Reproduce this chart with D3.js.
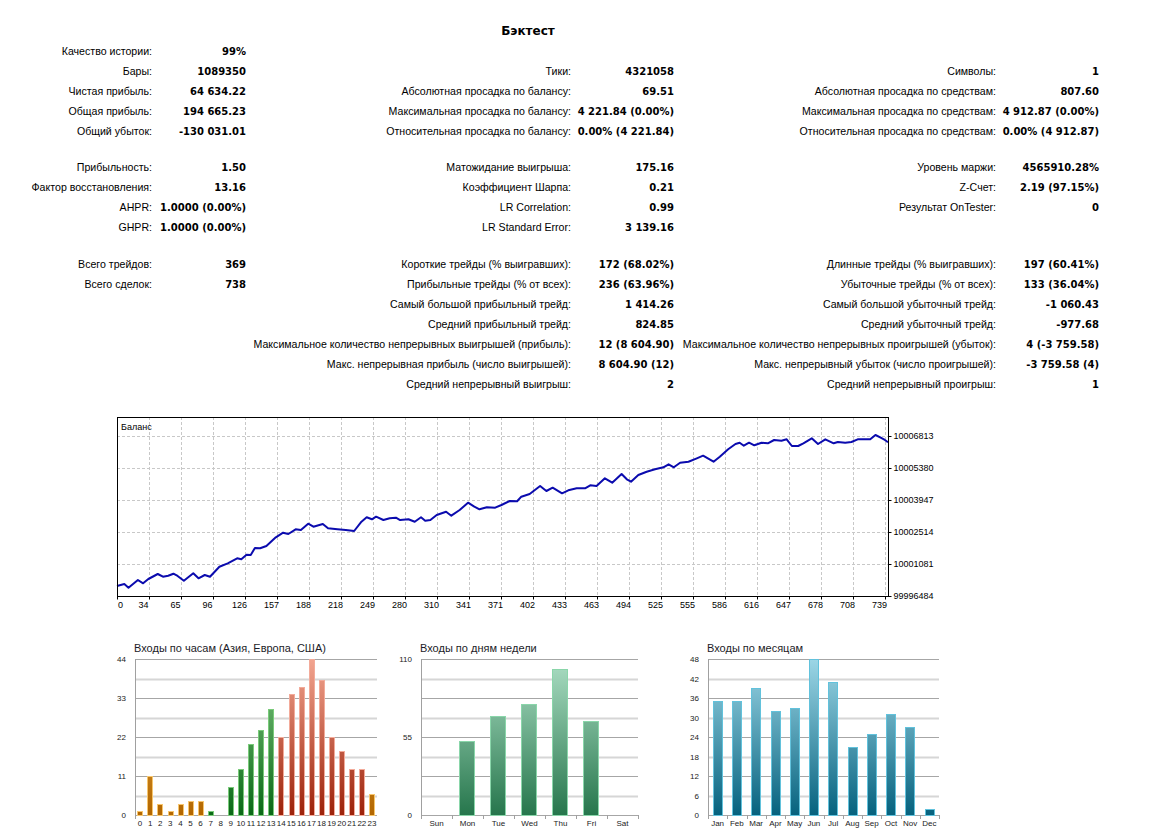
<!DOCTYPE html>
<html>
<head>
<meta charset="utf-8">
<script src="https://cdn.jsdelivr.net/npm/d3@7"></script>
<style>
  body { margin: 0; background: #fff; }
  svg { display: block; font-family: Tahoma, "Liberation Sans", Arial, sans-serif; }
</style>
</head>
<body>
<svg id="report" width="1157" height="840"></svg>
<script>
"use strict";

// ---- report table ----
const reportTitle = "Бэктест";

const statsLeft = [
    ["Качество истории:", "99%"],
    ["Бары:", "1089350"],
    ["Чистая прибыль:", "64 634.22"],
    ["Общая прибыль:", "194 665.23"],
    ["Общий убыток:", "-130 031.01"],
    ["Прибыльность:", "1.50"],
    ["Фактор восстановления:", "13.16"],
    ["AHPR:", "1.0000 (0.00%)"],
    ["GHPR:", "1.0000 (0.00%)"],
    ["Всего трейдов:", "369"],
    ["Всего сделок:", "738"],
];

const statsMiddle = [
    null,
    ["Тики:", "4321058"],
    ["Абсолютная просадка по балансу:", "69.51"],
    ["Максимальная просадка по балансу:", "4 221.84 (0.00%)"],
    ["Относительная просадка по балансу:", "0.00% (4 221.84)"],
    ["Матожидание выигрыша:", "175.16"],
    ["Коэффициент Шарпа:", "0.21"],
    ["LR Correlation:", "0.99"],
    ["LR Standard Error:", "3 139.16"],
    ["Короткие трейды (% выигравших):", "172 (68.02%)"],
    ["Прибыльные трейды (% от всех):", "236 (63.96%)"],
    ["Самый большой прибыльный трейд:", "1 414.26"],
    ["Средний прибыльный трейд:", "824.85"],
    ["Максимальное количество непрерывных выигрышей (прибыль):", "12 (8 604.90)"],
    ["Макс. непрерывная прибыль (число выигрышей):", "8 604.90 (12)"],
    ["Средний непрерывный выигрыш:", "2"],
];

const statsRight = [
    null,
    ["Символы:", "1"],
    ["Абсолютная просадка по средствам:", "807.60"],
    ["Максимальная просадка по средствам:", "4 912.87 (0.00%)"],
    ["Относительная просадка по средствам:", "0.00% (4 912.87)"],
    ["Уровень маржи:", "4565910.28%"],
    ["Z-Счет:", "2.19 (97.15%)"],
    ["Результат OnTester:", "0"],
    null,
    ["Длинные трейды (% выигравших):", "197 (60.41%)"],
    ["Убыточные трейды (% от всех):", "133 (36.04%)"],
    ["Самый большой убыточный трейд:", "-1 060.43"],
    ["Средний убыточный трейд:", "-977.68"],
    ["Максимальное количество непрерывных проигрышей (убыток):", "4 (-3 759.58)"],
    ["Макс. непрерывный убыток (число проигрышей):", "-3 759.58 (4)"],
    ["Средний непрерывный проигрыш:", "1"],
];

// ---- balance curve ----
const balanceTitle = "Баланс";
const balanceDeals = [
    0, 7, 11, 20, 25, 30, 39, 44, 49, 54,
    58, 64, 73, 78, 84, 89, 98, 106, 115, 119,
    124, 128, 132, 137, 143, 152, 159, 164, 171, 176,
    183, 188, 197, 202, 211, 219, 227, 234, 239, 244,
    248, 255, 261, 267, 271, 279, 285, 291, 295, 300,
    306, 315, 320, 328, 336, 342, 347, 354, 362, 368,
    376, 383, 387, 395, 405, 411, 417, 426, 432, 440,
    448, 453, 459, 467, 474, 483, 488, 492, 499, 507,
    515, 523, 528, 533, 539, 547, 555, 561, 566, 571,
    577, 585, 592, 596, 600, 605, 610, 617, 623, 629,
    636, 641, 646, 652, 657, 665, 671, 678, 686, 690,
    697, 703, 709, 716, 721, 726, 731, 735, 738,
];
const balanceValues = [
    10000096, 10000185, 10000020, 10000364, 10000217, 10000409, 10000633, 10000512, 10000557, 10000647,
    10000544, 10000333, 10000665, 10000441, 10000588, 10000512, 10000960, 10001112, 10001336, 10001291,
    10001497, 10001484, 10001797, 10001784, 10001887, 10002277, 10002483, 10002424, 10002635, 10002603,
    10002886, 10002751, 10002872, 10002680, 10002635, 10002603, 10002559, 10002975, 10003172, 10003083,
    10003199, 10003051, 10003127, 10003154, 10003051, 10003083, 10002975, 10003172, 10003020, 10003051,
    10003275, 10003423, 10003244, 10003499, 10003826, 10003647, 10003530, 10003620, 10003602, 10003723,
    10003902, 10003889, 10004095, 10004216, 10004574, 10004350, 10004498, 10004247, 10004381, 10004471,
    10004471, 10004605, 10004574, 10004919, 10004722, 10005111, 10004874, 10004766, 10005066, 10005214,
    10005322, 10005411, 10005545, 10005411, 10005617, 10005662, 10005814, 10005931, 10005796, 10005662,
    10005886, 10006217, 10006455, 10006513, 10006378, 10006513, 10006396, 10006513, 10006486, 10006634,
    10006602, 10006665, 10006365, 10006365, 10006486, 10006710, 10006455, 10006665, 10006486, 10006544,
    10006513, 10006544, 10006665, 10006665, 10006665, 10006858, 10006737, 10006634, 10006531,
];
const balanceTicks = [9999648, 10001081, 10002514, 10003947, 10005380, 10006813];
const balanceTickLabels = ["99996484", "10001081", "10002514", "10003947", "10005380", "10006813"];
const dealTickLabels = [0, 34, 65, 96, 126, 157, 188, 218, 249, 280, 310, 341, 371,
    402, 433, 463, 494, 525, 555, 586, 616, 647, 678, 708, 739];

// ---- entries histograms ----
const hourTitle = "Входы по часам (Азия, Европа, США)";
const hours = d3.range(24).map(String);
const hourEntries = [1, 11, 3, 1, 3, 4, 4, 1, 0, 8, 13, 20, 24, 30, 22, 34, 36, 44, 38, 22, 18, 13, 13, 6];
const hourSessions = ["asia", "asia", "asia", "asia", "asia", "asia", "asia",
    "europe", "europe", "europe", "europe", "europe", "europe", "europe",
    "usa", "usa", "usa", "usa", "usa", "usa", "usa", "usa", "usa", "asia"];

const weekdayTitle = "Входы по дням недели";
const weekdays = ["Sun", "Mon", "Tue", "Wed", "Thu", "Fri", "Sat"];
const weekdayEntries = [0, 52, 70, 78, 103, 66, 0];

const monthTitle = "Входы по месяцам";
const months = ["Jan", "Feb", "Mar", "Apr", "May", "Jun", "Jul", "Aug", "Sep", "Oct", "Nov", "Dec"];
const monthEntries = [35, 35, 39, 32, 33, 48, 41, 21, 25, 31, 27, 2];

// gradient top / bottom / outline
const palettes = {
    asia:    ["#f6bc52", "#b26600", "#f7c66e"],
    europe:  ["#84c884", "#0a6816", "#7acb7a"],
    usa:     ["#f2a590", "#9c220a", "#f3ab9a"],
    weekday: ["#acdec4", "#26764c", "#8ad6aa"],
    month:   ["#9cd6e6", "#06627e", "#62c2dc"],
};

const svg = d3.select("#report");
const defs = svg.append("defs");

svg.append("text")
    .attr("x", 528).attr("y", 35)
    .attr("text-anchor", "middle")
    .attr("font-size", 12)
    .attr("font-family", "'DejaVu Sans', sans-serif")
    .attr("font-weight", "bold")
    .text(reportTitle);

// rows are 20px apart, with extra space between the three blocks
const rowY = i => 55 + 20 * i + (i >= 5 ? 16 : 0) + (i >= 9 ? 17 : 0);

const columns = [
    {rows: statsLeft, labelRight: 152, valueRight: 246},
    {rows: statsMiddle, labelRight: 571, valueRight: 674},
    {rows: statsRight, labelRight: 996, valueRight: 1099},
];

svg.append("g")
    .classed("stats", true)
    .attr("fill", "#000")
    .selectAll("g.column")
    .data(columns)
    .join("g")
    .classed("column", true)
    .each(function(col) {
        const rows = d3.select(this)
            .selectAll("g.row")
            .data(col.rows.map((r, i) => r && {label: r[0], value: r[1], i}).filter(Boolean))
            .join("g")
            .classed("row", true)
            .attr("transform", d => `translate(0,${rowY(d.i)})`);
        rows.append("text")
            .attr("x", col.labelRight)
            .attr("text-anchor", "end")
            .attr("font-size", 10.6)
            .text(d => d.label);
        // Tahoma bold is wide, DejaVu bold gets closer than Liberation
        rows.append("text")
            .attr("x", col.valueRight)
            .attr("text-anchor", "end")
            .attr("font-size", 10)
            .attr("font-family", "'DejaVu Sans', sans-serif")
            .attr("font-weight", "bold")
            .text(d => d.value);
    });

// ---- balance chart ----
{
    const box = {left: 117, right: 888, top: 417, bottom: 596};
    const x = d3.scaleLinear().domain([0, 738]).range([box.left, box.right]);
    const y = d3.scaleLinear()
        .domain([balanceTicks[0], balanceTicks[balanceTicks.length - 1]])
        .range([box.bottom, 436]);
    const xGrid = d3.scalePoint(dealTickLabels, [box.left, 885]);

    const g = svg.append("g").classed("balance", true);

    g.append("g")
        .attr("stroke", "#c8c8c8")
        .attr("stroke-dasharray", "3,2")
        .call(grid => grid.selectAll("line.v")
            .data(dealTickLabels.slice(1))
            .join("line")
            .classed("v", true)
            .attr("x1", d => xGrid(d) + 0.5).attr("x2", d => xGrid(d) + 0.5)
            .attr("y1", box.top).attr("y2", box.bottom))
        .call(grid => grid.selectAll("line.h")
            .data(balanceTicks.slice(1))
            .join("line")
            .classed("h", true)
            .attr("x1", box.left).attr("x2", box.right)
            .attr("y1", d => Math.round(y(d)) + 0.5).attr("y2", d => Math.round(y(d)) + 0.5));

    g.append("path")
        .datum(d3.zip(balanceDeals, balanceValues))
        .attr("fill", "none")
        .attr("stroke", "#0b0bae")
        .attr("stroke-width", 2)
        .attr("stroke-linejoin", "round")
        .attr("d", d3.line().x(d => x(d[0])).y(d => y(d[1])));

    g.append("rect")
        .attr("x", box.left + 0.5).attr("y", box.top + 0.5)
        .attr("width", box.right - box.left).attr("height", box.bottom - box.top)
        .attr("fill", "none")
        .attr("stroke", "#000");

    g.append("text")
        .attr("x", box.left + 4).attr("y", box.top + 13)
        .attr("font-size", 9)
        .text(balanceTitle);

    g.append("g")
        .attr("transform", `translate(${box.right + 0.5},0)`)
        .call(d3.axisRight(y).tickValues(balanceTicks)
            .tickFormat((d, i) => balanceTickLabels[i])
            .tickSize(3).tickPadding(2))
        .call(ax => ax.select(".domain").remove())
        .call(ax => ax.selectAll("text").attr("font-size", 9).attr("font-family", null));

    g.append("g")
        .attr("transform", `translate(0,${box.bottom + 0.5})`)
        .call(d3.axisBottom(xGrid).tickSize(3).tickPadding(2))
        .call(ax => ax.select(".domain").remove())
        .call(ax => ax.selectAll("text")
            .attr("font-size", 9).attr("font-family", null)
            .attr("dx", (d, i) => i === 0 ? 3 : -6));
}

// ---- histograms ----
function barChart(cfg) {
    const {id, title, categories, values, colorKeys, max, labelEvery,
        left, right, top, bottom, padding, bandTicks} = cfg;
    const x = d3.scaleBand(categories, [left, right]).paddingInner(padding).paddingOuter(padding / 2);
    const y = d3.scaleLinear().domain([0, max]).range([bottom, top]);
    const gridValues = d3.range(9).map(k => k * max / 8);

    const g = svg.append("g").classed(`hist ${id}`, true);

    for (const key of new Set(colorKeys)) {
        const [c0, c1] = palettes[key];
        const grad = defs.append("linearGradient")
            .attr("id", `grad-${id}-${key}`)
            .attr("gradientUnits", "userSpaceOnUse")
            .attr("x1", 0).attr("x2", 0)
            .attr("y1", top).attr("y2", bottom);
        grad.append("stop").attr("offset", 0).attr("stop-color", c0);
        grad.append("stop").attr("offset", 1).attr("stop-color", c1);
    }

    g.append("text")
        .attr("x", left - 1).attr("y", top - 7)
        .attr("font-size", 11)
        .attr("fill", "#1c1c28")
        .text(title);

    g.append("g")
        .selectAll("line")
        .data(gridValues)
        .join("line")
        .attr("x1", left).attr("x2", right)
        .attr("y1", d => Math.round(y(d)) + 0.5).attr("y2", d => Math.round(y(d)) + 0.5)
        .attr("stroke", (d, k) => k % 2 ? "#d6d6d6" : "#a6a6a6")
        .attr("stroke-width", (d, k) => k % 2 ? 2 : 1);

    g.append("line")
        .attr("x1", left + 0.5).attr("x2", left + 0.5)
        .attr("y1", top).attr("y2", bottom + 4)
        .attr("stroke", "#a0a0a0");

    if (bandTicks) {
        g.append("g")
            .selectAll("line")
            .data(categories.slice(1).concat(null))
            .join("line")
            .attr("x1", d => Math.round(d === null ? right : x(d) - x.step() * padding / 2) + 0.5)
            .attr("x2", d => Math.round(d === null ? right : x(d) - x.step() * padding / 2) + 0.5)
            .attr("y1", bottom).attr("y2", bottom + 4)
            .attr("stroke", "#a0a0a0");
    }

    g.append("g")
        .selectAll("rect")
        .data(categories.map((c, i) => ({c, v: values[i], key: colorKeys[i]})).filter(d => d.v > 0))
        .join("rect")
        .attr("x", d => Math.round(x(d.c)) + 0.5)
        .attr("y", d => Math.round(y(d.v)) + 0.5)
        .attr("width", Math.round(x.bandwidth()) - 1)
        .attr("height", d => Math.round(y(0)) - Math.round(y(d.v)))
        .attr("fill", d => `url(#grad-${id}-${d.key})`)
        .attr("stroke", d => palettes[d.key][2]);

    g.append("g")
        .attr("transform", `translate(${left},0)`)
        .call(d3.axisLeft(y)
            .tickValues(gridValues.filter((d, k) => k % labelEvery === 0))
            .tickFormat(d3.format("d"))
            .tickSize(0).tickPadding(9))
        .call(ax => ax.select(".domain").remove())
        .call(ax => ax.selectAll("text").attr("font-size", 8).attr("font-family", null).attr("fill", "#222"));

    g.append("g")
        .attr("transform", `translate(0,${bottom + 2})`)
        .call(d3.axisBottom(x).tickSize(0).tickPadding(3))
        .call(ax => ax.select(".domain").remove())
        .call(ax => ax.selectAll("text").attr("font-size", 8).attr("font-family", null).attr("fill", "#222"));
}

barChart({
    id: "hours", title: hourTitle, categories: hours, values: hourEntries, colorKeys: hourSessions,
    max: 44, labelEvery: 2, left: 135, right: 377, top: 659, bottom: 815, padding: 0.45, bandTicks: false,
});
barChart({
    id: "weekdays", title: weekdayTitle, categories: weekdays, values: weekdayEntries,
    colorKeys: weekdays.map(() => "weekday"),
    max: 110, labelEvery: 4, left: 421, right: 638, top: 659, bottom: 815, padding: 0.47, bandTicks: true,
});
barChart({
    id: "months", title: monthTitle, categories: months, values: monthEntries,
    colorKeys: months.map(() => "month"),
    max: 48, labelEvery: 1, left: 708, right: 939, top: 659, bottom: 815, padding: 0.5, bandTicks: true,
});
</script>
</body>
</html>
